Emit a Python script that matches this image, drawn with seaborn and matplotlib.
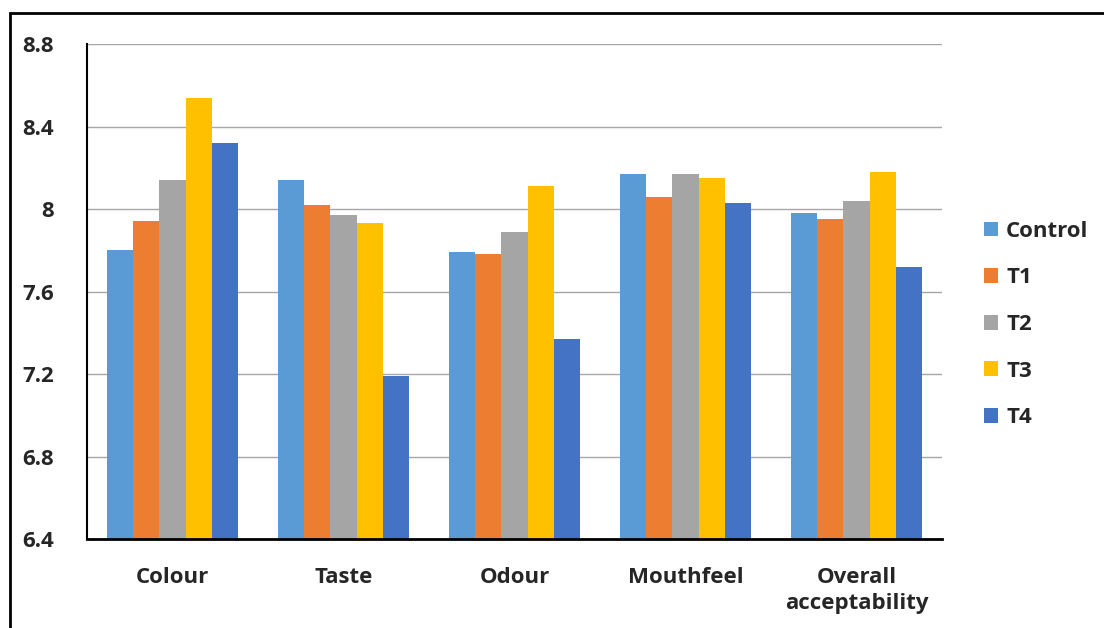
import matplotlib
matplotlib.use("Agg")
import matplotlib.pyplot as plt
import seaborn as sns
import pandas as pd
from matplotlib.patches import Rectangle, Patch

categories = ["Colour", "Taste", "Odour", "Mouthfeel", "Overall\nacceptability"]
series = ["Control", "T1", "T2", "T3", "T4"]
control = [7.80, 8.14, 7.79, 8.17, 7.98]
t1 = [7.94, 8.02, 7.78, 8.06, 7.95]
t2 = [8.14, 7.97, 7.89, 8.17, 8.04]
t3 = [8.54, 7.93, 8.11, 8.15, 8.18]
t4 = [8.32, 7.19, 7.37, 8.03, 7.72]
colors = ["#5B9BD5", "#ED7D31", "#A5A5A5", "#FFC000", "#4472C4"]
yticks = [6.4, 6.8, 7.2, 7.6, 8.0, 8.4, 8.8]
ytick_labels = ["6.4", "6.8", "7.2", "7.6", "8", "8.4", "8.8"]

rows = []
for name, vals in zip(series, [control, t1, t2, t3, t4]):
    for c, v in zip(categories, vals):
        rows.append({"Category": c, "Series": name, "Value": v})
df = pd.DataFrame(rows)

sns.set_theme(style="white")
plt.rcParams["font.family"] = ["Open Sans", "DejaVu Sans"]

FS = 16

fig = plt.figure(figsize=(11.04, 6.28), dpi=100)
ax = fig.add_axes([87/1104, 1-539/628, (942-87)/1104, (539-44)/628])

sns.barplot(data=df, x="Category", y="Value", hue="Series", order=categories,
            hue_order=series, palette=colors, width=0.77, linewidth=0,
            saturation=1, ax=ax, legend=False)

ax.set_ylim(6.4, 8.8)
ax.set_yticks(yticks)
ax.set_yticklabels(ytick_labels, fontsize=FS, fontweight="bold")
ax.tick_params(axis="x", labelsize=FS, length=0, pad=20)
ax.tick_params(axis="y", length=0, pad=24)
for lab in ax.get_xticklabels():
    lab.set_fontweight("bold")
    lab.set_linespacing(1.3)
ax.set_xlabel("")
ax.set_ylabel("")
ax.yaxis.grid(True, color="#a6a6a6", linewidth=1)
ax.set_axisbelow(True)
for s in ["top", "right"]:
    ax.spines[s].set_visible(False)
ax.spines["left"].set_color("black")
ax.spines["left"].set_linewidth(1.5)
ax.spines["bottom"].set_color("black")
ax.spines["bottom"].set_linewidth(2)

handles = [Patch(facecolor=c, edgecolor="none") for c in colors]
leg = fig.legend(handles, series, loc="upper left", bbox_to_anchor=(975/1104, 1-212/628),
                 frameon=False, prop={"weight": "bold", "size": FS},
                 handlelength=0.65, handleheight=0.65, handletextpad=0.35,
                 labelspacing=1.15, borderaxespad=0)

fig.patches.append(Rectangle((10/1104, -0.1), 1.2, 1-13/628+0.1, transform=fig.transFigure,
                             fill=False, edgecolor="black", linewidth=2))

fig.savefig("out.png", dpi=100)
